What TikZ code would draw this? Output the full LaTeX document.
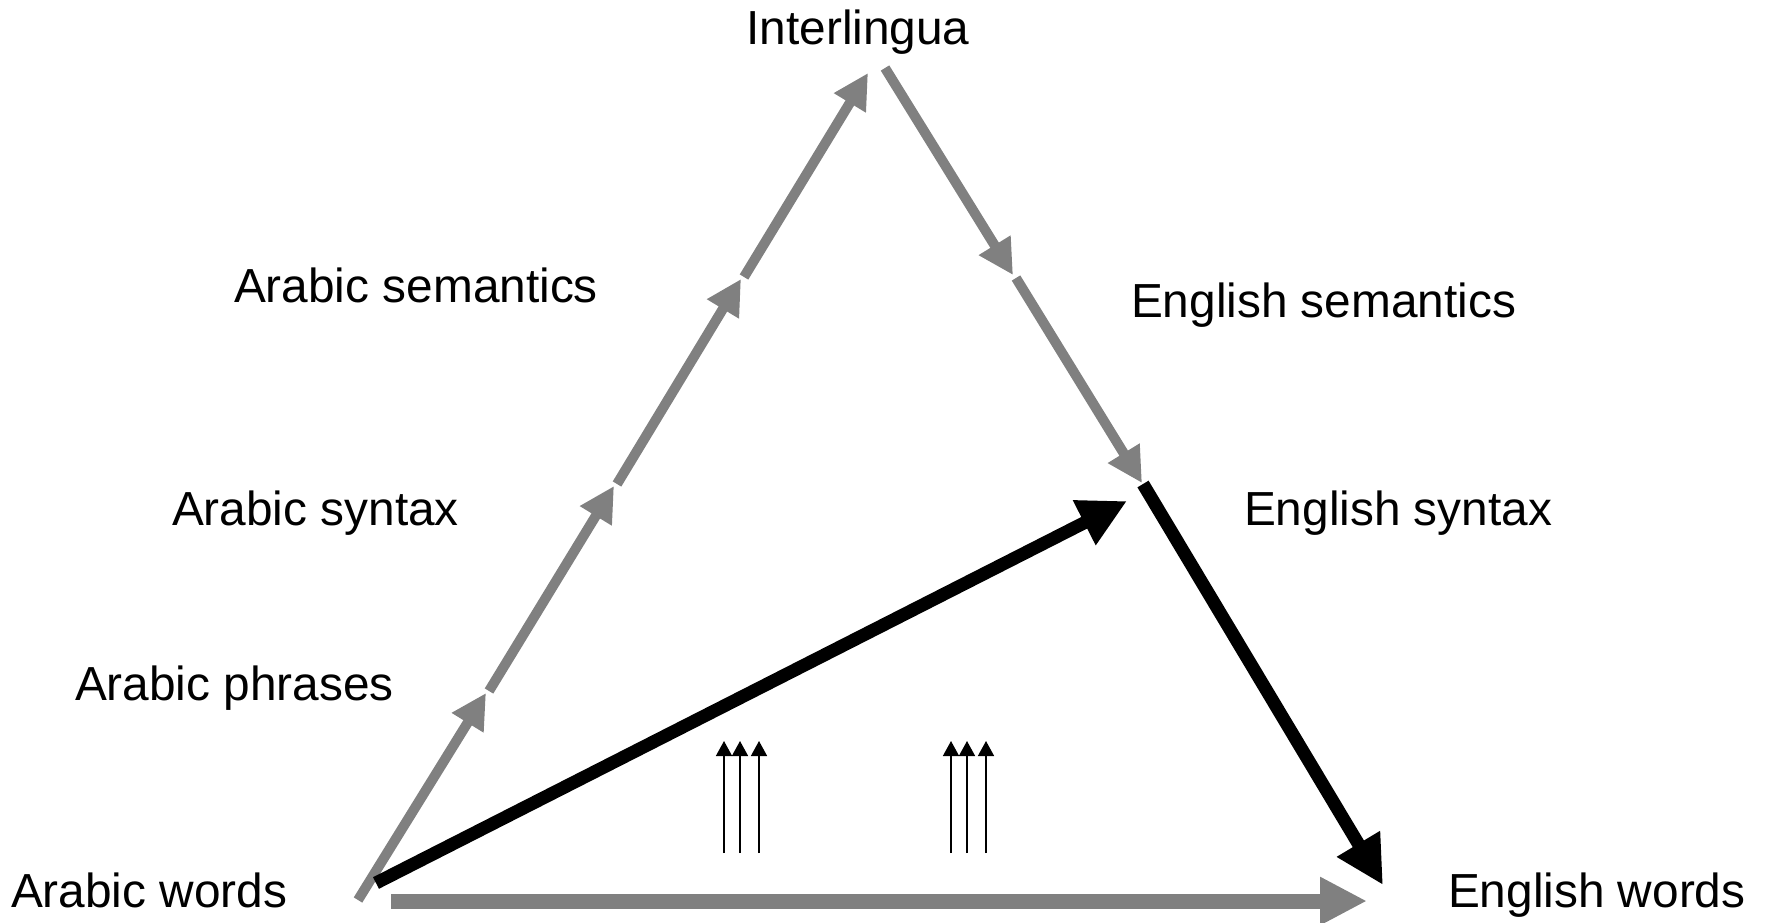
\documentclass[tikz,border=0pt]{standalone}
\usepackage{fontspec}
\setmainfont{Liberation Sans}
\usetikzlibrary{arrows.meta}
\definecolor{arrowgray}{RGB}{128,128,128}
\begin{document}
\begin{tikzpicture}[x=0.5pt,y=-0.5pt,
  lbl/.style={inner sep=0pt, outer sep=0pt, font=\fontsize{23.9pt}{28pt}\selectfont, anchor=base west},
  grayseg/.style={draw=arrowgray, line width=5pt, -{Triangle[length=17.5pt,width=17.5pt]}},
  grayflat/.style={draw=arrowgray, line width=7.5pt, -{Triangle[length=23.5pt,width=22.5pt]}},
  blackseg/.style={draw=black, line width=6.5pt, -{Triangle[length=24pt,width=23.5pt]}},
  thinarrow/.style={draw=black, line width=0.75pt, -{Triangle[length=7.5pt,width=8pt]}}
]
\useasboundingbox (0,0) rectangle (1767,922);

% labels
\node[lbl, anchor=base] (inter) at (858,44) {Interlingua};
\node[lbl] (asem) at (234,302) {Arabic semantics};
\node[lbl] (asyn) at (172,525) {Arabic syntax};
\node[lbl] (aphr) at (75,700) {Arabic phrases};
\node[lbl] (awor) at (11,907) {Arabic words};
\node[lbl] (esem) at (1131,317) {English semantics};
\node[lbl] (esyn) at (1244,525) {English syntax};
\node[lbl] (ewor) at (1448,907) {English words};

% left side points
\coordinate (L0) at (358,900);
\coordinate (L1) at (486,693);
\coordinate (L1b) at (489,691);
\coordinate (L2) at (614,486);
\coordinate (L2b) at (617,484);
\coordinate (L3) at (741,279);
\coordinate (L3b) at (744,277);
\coordinate (L4) at (868,73);
% right side points
\coordinate (R0) at (885,68);
\coordinate (R1) at (1013,275);
\coordinate (R1b) at (1016,278);
\coordinate (R2) at (1142,483);
\coordinate (R2b) at (1143,484);
\coordinate (R3) at (1383,885);
% black diagonal
\coordinate (B0) at (376,883);
\coordinate (B1) at (1127,501);
% horizontal
\coordinate (H0) at (391,901);
\coordinate (H1) at (1367,901);

\draw[grayseg] (L0) -- (L1);
\draw[grayseg] (L1b) -- (L2);
\draw[grayseg] (L2b) -- (L3);
\draw[grayseg] (L3b) -- (L4);
\draw[grayseg] (R0) -- (R1);
\draw[grayseg] (R1b) -- (R2);
\draw[blackseg] (R2b) -- (R3);
\draw[grayflat] (H0) -- (H1);
\draw[blackseg] (B0) -- (B1);

% small upward arrows
\foreach \i/\x in {a/724,b/740,c/759,d/951,e/967,f/986}{
  \coordinate (s\i0) at (\x,853);
  \coordinate (s\i1) at (\x,741);
  \draw[thinarrow] (s\i0) -- (s\i1);
}
\end{tikzpicture}
\end{document}
